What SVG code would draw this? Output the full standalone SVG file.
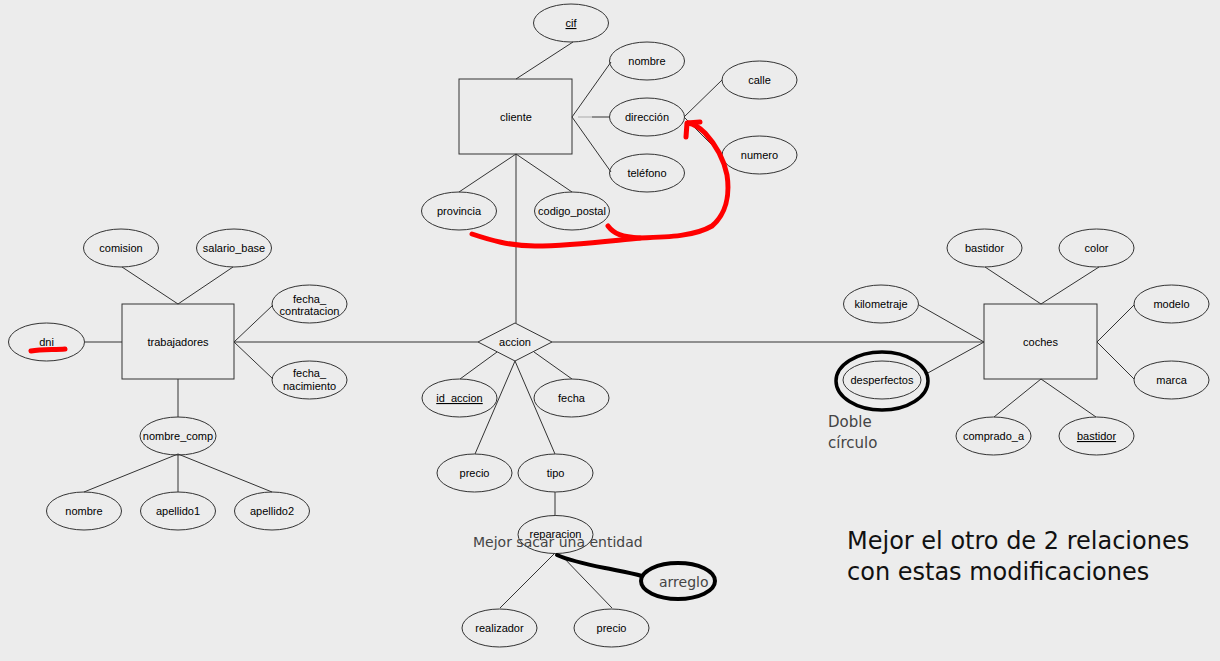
<svg xmlns="http://www.w3.org/2000/svg" width="1220" height="661" viewBox="0 0 1220 661">
<style>
.bg{fill:#ececec}
.ent{fill:none;stroke:#333;stroke-width:1}
.att{fill:none;stroke:#333;stroke-width:1}
.ln{stroke:#333;stroke-width:1;fill:none}
.t{font-family:"Liberation Sans",Arial,sans-serif;font-size:11px;fill:#000;text-anchor:middle}
.u{text-decoration:underline}
.note{font-family:"DejaVu Sans",Verdana,sans-serif;fill:#444}
.red{fill:none;stroke:#f00;stroke-width:5;stroke-linecap:round;stroke-linejoin:round}
.blk{fill:none;stroke:#000;stroke-width:4;stroke-linecap:round;stroke-linejoin:round}
</style>
<rect class="bg" x="0" y="0" width="1220" height="661"/>
<g id="connectors">
<line class="ln" x1="573" y1="42" x2="516" y2="79"/>
<line class="ln" x1="572" y1="117" x2="611" y2="62"/>
<line class="ln" x1="578" y1="117" x2="592" y2="117" style="stroke:#aaa"/>
<line class="ln" x1="592" y1="117" x2="609" y2="117"/>
<line class="ln" x1="572" y1="117" x2="611" y2="172"/>
<line class="ln" x1="684" y1="117" x2="722" y2="80"/>
<line class="ln" x1="684" y1="117" x2="722" y2="155"/>
<line class="ln" x1="516" y1="154" x2="459" y2="192"/>
<line class="ln" x1="516" y1="154" x2="572" y2="192"/>
<line class="ln" x1="516" y1="154" x2="516" y2="323"/>
<line class="ln" x1="234" y1="342" x2="478" y2="342"/>
<line class="ln" x1="552" y1="342" x2="984" y2="342"/>
<line class="ln" x1="85" y1="342" x2="122" y2="342"/>
<line class="ln" x1="122" y1="267" x2="178" y2="304"/>
<line class="ln" x1="233" y1="267" x2="178" y2="304"/>
<line class="ln" x1="234" y1="342" x2="273" y2="305"/>
<line class="ln" x1="234" y1="342" x2="273" y2="379"/>
<line class="ln" x1="178" y1="379" x2="178" y2="417"/>
<line class="ln" x1="178" y1="454" x2="84" y2="492"/>
<line class="ln" x1="178" y1="454" x2="178" y2="492"/>
<line class="ln" x1="178" y1="454" x2="272" y2="492"/>
<line class="ln" x1="497" y1="352" x2="460" y2="379"/>
<line class="ln" x1="534" y1="352" x2="572" y2="379"/>
<line class="ln" x1="515" y1="361" x2="475" y2="454"/>
<line class="ln" x1="515" y1="361" x2="555" y2="454"/>
<line class="ln" x1="555" y1="492" x2="555" y2="516"/>
<line class="ln" x1="555" y1="553" x2="500" y2="608"/>
<line class="ln" x1="561" y1="555" x2="612" y2="608"/>
<line class="ln" x1="985" y1="267" x2="1041" y2="304"/>
<line class="ln" x1="1099" y1="267" x2="1041" y2="304"/>
<line class="ln" x1="919" y1="305" x2="984" y2="342"/>
<line class="ln" x1="926" y1="374" x2="984" y2="342"/>
<line class="ln" x1="1097" y1="342" x2="1134" y2="305"/>
<line class="ln" x1="1097" y1="342" x2="1134" y2="379"/>
<line class="ln" x1="1041" y1="379" x2="994" y2="417"/>
<line class="ln" x1="1041" y1="379" x2="1096" y2="417"/>
</g>
<g id="cliente"><rect class="ent" x="459" y="79" width="113" height="75"/><text class="t" x="516" y="121">cliente</text></g>
<g id="cif"><ellipse class="att" cx="571" cy="23" rx="37.5" ry="19"/><text class="t u" x="571" y="27">cif</text></g>
<g id="nombre_cli"><ellipse class="att" cx="647" cy="61" rx="37.5" ry="19"/><text class="t" x="647" y="65">nombre</text></g>
<g id="direccion"><ellipse class="att" cx="647" cy="117" rx="37.5" ry="19"/><text class="t" x="647" y="121">dirección</text></g>
<g id="telefono"><ellipse class="att" cx="647" cy="173" rx="37.5" ry="19"/><text class="t" x="647" y="177">teléfono</text></g>
<g id="calle"><ellipse class="att" cx="759.5" cy="80" rx="37.5" ry="19"/><text class="t" x="759.5" y="84">calle</text></g>
<g id="numero"><ellipse class="att" cx="759.5" cy="155" rx="37.5" ry="19"/><text class="t" x="759.5" y="159">numero</text></g>
<g id="provincia"><ellipse class="att" cx="459" cy="211" rx="37.5" ry="19"/><text class="t" x="459" y="215">provincia</text></g>
<g id="codigo_postal"><ellipse class="att" cx="572" cy="211" rx="37.5" ry="19"/><text class="t" x="572" y="215">codigo_postal</text></g>
<g id="trabajadores"><rect class="ent" x="122" y="304" width="112" height="75"/><text class="t" x="178" y="346">trabajadores</text></g>
<g id="comision"><ellipse class="att" cx="121" cy="248" rx="37.5" ry="19"/><text class="t" x="121" y="252">comision</text></g>
<g id="salario_base"><ellipse class="att" cx="234" cy="248" rx="37.5" ry="19"/><text class="t" x="234" y="252">salario_base</text></g>
<g id="fecha_contratacion"><ellipse class="att" cx="309.5" cy="304" rx="37.5" ry="19"/><text class="t" x="309.5" y="303">fecha_</text><text class="t" x="309.5" y="315">contratacion</text></g>
<g id="fecha_nacimiento"><ellipse class="att" cx="309.5" cy="380" rx="37.5" ry="19"/><text class="t" x="309.5" y="377">fecha_</text><text class="t" x="309.5" y="390">nacimiento</text></g>
<g id="dni"><ellipse class="att" cx="46.5" cy="342" rx="38" ry="19"/><text class="t" x="46.5" y="346">dni</text></g>
<g id="nombre_comp"><ellipse class="att" cx="178" cy="436" rx="38" ry="19"/><text class="t" x="178" y="440">nombre_comp</text></g>
<g id="nombre"><ellipse class="att" cx="84" cy="511" rx="37.5" ry="19"/><text class="t" x="84" y="515">nombre</text></g>
<g id="apellido1"><ellipse class="att" cx="178" cy="511" rx="37.5" ry="19"/><text class="t" x="178" y="515">apellido1</text></g>
<g id="apellido2"><ellipse class="att" cx="272" cy="511" rx="37.5" ry="19"/><text class="t" x="272" y="515">apellido2</text></g>
<g id="accion"><polygon class="ent" points="478,342 515,323 552,342 515,361"/><text class="t" x="515" y="346">accion</text></g>
<g id="id_accion"><ellipse class="att" cx="459.5" cy="398" rx="37.5" ry="19"/><text class="t u" x="459.5" y="402">id_accion</text></g>
<g id="fecha"><ellipse class="att" cx="571.5" cy="398" rx="37.5" ry="19"/><text class="t" x="571.5" y="402">fecha</text></g>
<g id="precio"><ellipse class="att" cx="474.5" cy="473" rx="37.5" ry="19"/><text class="t" x="474.5" y="477">precio</text></g>
<g id="tipo"><ellipse class="att" cx="555.5" cy="473" rx="37.5" ry="19"/><text class="t" x="555.5" y="477">tipo</text></g>
<g id="reparacion"><ellipse class="att" cx="555.5" cy="534.5" rx="37.5" ry="19"/><text class="t" x="555.5" y="538">reparacion</text></g>
<g id="realizador"><ellipse class="att" cx="499.5" cy="628" rx="37.5" ry="19"/><text class="t" x="499.5" y="632">realizador</text></g>
<g id="precio2"><ellipse class="att" cx="611.5" cy="628" rx="37.5" ry="19"/><text class="t" x="611.5" y="632">precio</text></g>
<g id="coches"><rect class="ent" x="984" y="304" width="113" height="75"/><text class="t" x="1040.5" y="346">coches</text></g>
<g id="bastidor"><ellipse class="att" cx="984.5" cy="248" rx="37.5" ry="19"/><text class="t" x="984.5" y="252">bastidor</text></g>
<g id="color"><ellipse class="att" cx="1096.5" cy="248" rx="37.5" ry="19"/><text class="t" x="1096.5" y="252">color</text></g>
<g id="kilometraje"><ellipse class="att" cx="881" cy="304" rx="37.5" ry="19"/><text class="t" x="881" y="308">kilometraje</text></g>
<g id="desperfectos"><ellipse class="att" cx="882" cy="380" rx="39" ry="19"/><text class="t" x="882" y="384">desperfectos</text></g>
<g id="modelo"><ellipse class="att" cx="1171.5" cy="304" rx="37.5" ry="19"/><text class="t" x="1171.5" y="308">modelo</text></g>
<g id="marca"><ellipse class="att" cx="1171.5" cy="380" rx="37.5" ry="19"/><text class="t" x="1171.5" y="384">marca</text></g>
<g id="comprado_a"><ellipse class="att" cx="993.5" cy="436" rx="37.5" ry="19"/><text class="t" x="993.5" y="440">comprado_a</text></g>
<g id="bastidor2"><ellipse class="att" cx="1096.5" cy="436" rx="37.5" ry="19"/><text class="t u" x="1096.5" y="440">bastidor</text></g>
<g id="annotations">
<path class="red" d="M31,351 C42,349 55,350 65,349"/>
<path class="red" d="M472,234 C490,240 510,246 535,246 C570,246 600,242 640,238 C670,237 695,236 712,226 C726,214 730,195 727,175 C724,160 716,145 705,133 C699,127 694,124 688,123"/>
<path class="red" d="M608,226 C614,234 622,237 640,238"/>
<path class="red" d="M686,137 L687,123 L700,122"/>
<path class="blk" d="M557,555 C568,560 585,564 605,568 C620,571 632,573 642,576"/>
<ellipse class="blk" cx="678" cy="581" rx="37" ry="18"/>
<ellipse cx="882" cy="381" rx="46" ry="29" fill="none" stroke="#000" stroke-width="3.5"/>
<text class="note" x="473" y="547" font-size="14">Mejor sacar una entidad</text>
<text class="note" x="659" y="587" font-size="14">arreglo</text>
<text class="note" x="828" y="427" font-size="15">Doble</text>
<text class="note" x="828" y="448" font-size="15">círculo</text>
<text class="note" x="847" y="549" font-size="24" style="fill:#111">Mejor el otro de 2 relaciones</text>
<text class="note" x="847" y="580" font-size="24" style="fill:#111">con estas modificaciones</text>
</g>
</svg>
